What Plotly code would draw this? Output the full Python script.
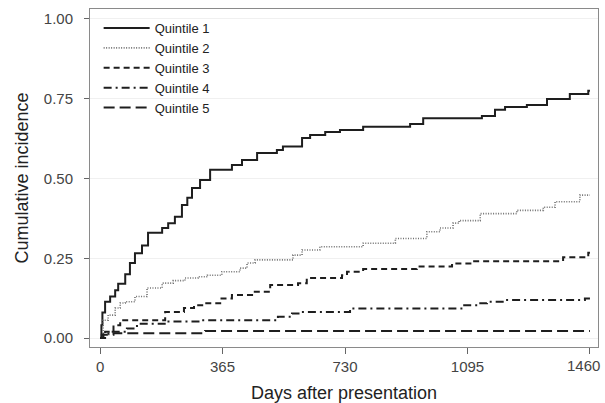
import plotly.graph_objects as go

# ---- data (days, cumulative incidence) ----
q1_days = [0, 4, 7, 15, 30, 45, 54, 75, 89, 104, 125, 143, 185, 203, 223, 244, 260, 274, 298, 328,
           393, 423, 468, 527, 545, 602, 626, 671, 715, 784, 924, 963, 1138, 1177, 1207, 1272,
           1332, 1400, 1455, 1460]
q1_vals = [0, 0.04, 0.08, 0.114, 0.13, 0.15, 0.17, 0.2, 0.235, 0.266, 0.29, 0.33, 0.345, 0.36, 0.38,
           0.417, 0.44, 0.47, 0.495, 0.527, 0.542, 0.558, 0.58, 0.589, 0.6, 0.627, 0.636, 0.646,
           0.652, 0.662, 0.671, 0.689, 0.696, 0.715, 0.724, 0.73, 0.749, 0.765, 0.775, 0.775]

q2_days = [0, 9, 24, 45, 60, 75, 104, 140, 185, 218, 253, 292, 320, 363, 417, 438, 462, 575, 602,
           655, 784, 880, 974, 1013, 1052, 1070, 1133, 1242, 1321, 1356, 1430, 1460]
q2_vals = [0, 0.056, 0.072, 0.094, 0.11, 0.114, 0.13, 0.157, 0.172, 0.18, 0.188, 0.192, 0.197,
           0.208, 0.219, 0.235, 0.245, 0.26, 0.276, 0.286, 0.297, 0.312, 0.333, 0.345, 0.36,
           0.368, 0.39, 0.40, 0.41, 0.427, 0.448, 0.448]

q3_days = [0, 15, 40, 60, 194, 250, 280, 313, 358, 393, 453, 507, 590, 616, 721, 736, 784, 944,
           1049, 1109, 1380, 1455, 1460]
q3_vals = [0, 0.02, 0.04, 0.056, 0.082, 0.094, 0.103, 0.109, 0.124, 0.135, 0.145, 0.166, 0.172,
           0.188, 0.197, 0.208, 0.216, 0.224, 0.234, 0.241, 0.253, 0.267, 0.267]

q4_days = [0, 10, 25, 80, 110, 200, 300, 530, 572, 596, 745, 1082, 1124, 1153, 1207, 1445, 1460]
q4_vals = [0, 0.012, 0.02, 0.03, 0.045, 0.052, 0.056, 0.067, 0.077, 0.082, 0.093, 0.103, 0.109,
           0.114, 0.119, 0.124, 0.124]

q5_days = [0, 5, 40, 313, 1460]
q5_vals = [0, 0.01, 0.015, 0.022, 0.022]

series_names = ["Quintile 1", "Quintile 2", "Quintile 3", "Quintile 4", "Quintile 5"]
x_ticks = [0, 365, 730, 1095, 1460]
x_tick_text = ["0", "365", "730", "1095", ""]   # last label drawn as annotation (edge)
last_x_label = "1460"
y_ticks = [0, 0.25, 0.5, 0.75, 1.0]
y_tick_text = ["0.00", "0.25", "0.50", "0.75", "1.00"]

styles = [
    dict(color="#1e1e1e", width=2, dash="solid"),
    dict(color="#707070", width=1.6, dash="1px,1.5px"),
    dict(color="#1e1e1e", width=2, dash="6px,4px"),
    dict(color="#1e1e1e", width=2, dash="8px,4px,2px,4px"),
    dict(color="#1e1e1e", width=2, dash="11px,5px"),
]
data = [(q1_days, q1_vals), (q2_days, q2_vals), (q3_days, q3_vals),
        (q4_days, q4_vals), (q5_days, q5_vals)]

FONT = "Arial, 'Liberation Sans', sans-serif"

fig = go.Figure()
for (xd, yd), name, st in zip(data, series_names, styles):
    fig.add_trace(go.Scatter(x=xd, y=yd, mode="lines", name=name,
                             line=dict(shape="hv", **st)))

fig.add_annotation(x=x_ticks[-1], xref="x", y=0, yref="paper", text=last_x_label,
                   showarrow=False, xanchor="center", yanchor="top", xshift=-6, yshift=-8,
                   font=dict(size=15, color="#444444"))

fig.update_layout(
    width=605, height=403,
    margin=dict(l=90, r=7, t=9, b=56),
    paper_bgcolor="white", plot_bgcolor="white",
    font=dict(family=FONT, color="#333333"),
    showlegend=True,
    legend=dict(x=0.017, y=0.988, xanchor="left", yanchor="top",
                bgcolor="rgba(0,0,0,0)", font=dict(size=13, color="#222222"),
                itemwidth=46, tracegroupgap=0),
    xaxis=dict(range=[-30, 1484], tickvals=x_ticks, ticktext=x_tick_text,
               ticks="outside", ticklen=6,
               tickcolor="#666666", tickfont=dict(size=15, color="#444444"),
               automargin=False,
               showgrid=False, zeroline=False, showline=True, linecolor="#8a8a8a",
               linewidth=1, mirror=True,
               title=dict(text="Days after presentation", font=dict(size=18, color="#222222"),
                          standoff=12)),
    yaxis=dict(range=[-0.028, 1.031], tickvals=y_ticks, ticktext=y_tick_text,
               ticks="outside", ticklen=5, tickcolor="#666666", automargin=False,
               tickfont=dict(size=15, color="#444444"), ticklabelstandoff=8,
               showgrid=True, gridcolor="#f0f0f0", gridwidth=1,
               zeroline=False, showline=True, linecolor="#8a8a8a", linewidth=1, mirror=True,
               title=dict(text="Cumulative incidence", font=dict(size=18, color="#222222"),
                          standoff=10)),
)

fig.write_html("out.html")
